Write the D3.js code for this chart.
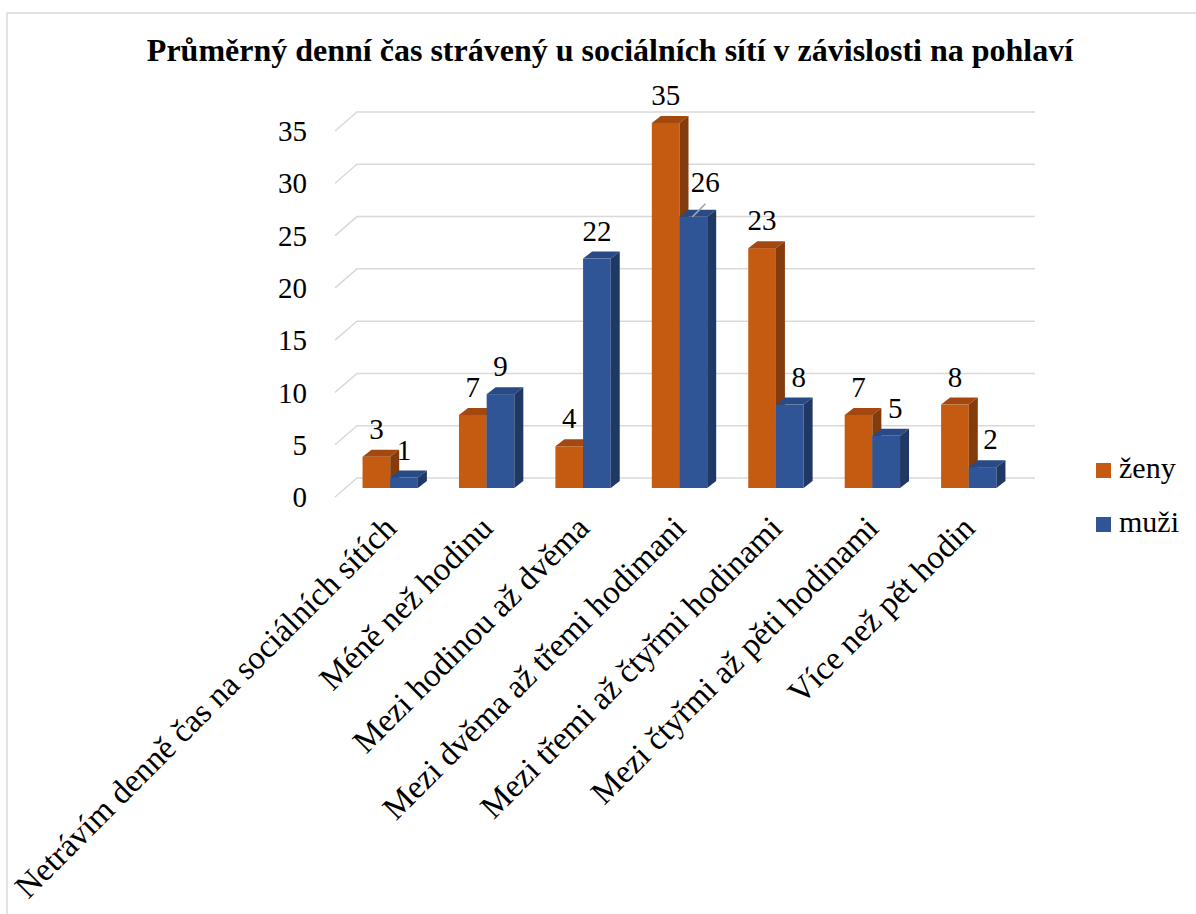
<!DOCTYPE html>
<html>
<head>
<meta charset="utf-8">
<script src="https://cdn.jsdelivr.net/npm/d3@7"></script>
<style>
	html, body { margin: 0; padding: 0; background: #fff; }
</style>
</head>
<body>
<div id="chart"></div>
<script>
const title = 'Průměrný denní čas strávený u sociálních sítí v závislosti na pohlaví';
const categories = [
	'Netrávím denně čas na sociálních sítích',
	'Méně než hodinu',
	'Mezi hodinou až dvěma',
	'Mezi dvěma až třemi hodimani',
	'Mezi třemi až čtyřmi hodinami',
	'Mezi čtyřmi až pěti hodinami',
	'Více než pět hodin'
];
const seriesNames = ['ženy', 'muži'];
const zeny = [3, 7, 4, 35, 23, 7, 8];
const muzi = [1, 9, 22, 26, 8, 5, 2];
const yTicks = [0, 5, 10, 15, 20, 25, 30, 35];

const W = 1196, H = 914;
const FONT = 'Liberation Serif';
const depth = { dx: 9, dy: -7 };      // bar depth (pseudo 3D)
const wall = { dx: 22, dy: -19 };     // side wall: front edge -> back wall
const colors = [
	{ front: '#c55a11', top: '#a4480f', side: '#843c0c' },
	{ front: '#2f5597', top: '#284a85', side: '#203864' }
];
// manual data label moves (series, category)
const labelMoves = [
	{ s: 1, c: 3, dx: 12, dy: -7, leader: true },
	{ s: 1, c: 4, dx: 9, dy: 0 },
	{ s: 1, c: 5, dx: 9, dy: 0 },
	{ s: 1, c: 6, dx: 8, dy: 0 }
];

const svg = d3.select('#chart')
	.append('svg')
	.attr('width', W)
	.attr('height', H)
	.attr('viewBox', `0 0 ${W} ${H}`);

// small text is drawn at 2x and scaled down, the small sizes of the serif face come out sans-like
const smallText = (sel, size) => sel
	.attr('font-family', FONT)
	.attr('font-size', size * 2);

// chart area border
svg.append('rect')
	.attr('x', 7).attr('y', 13)
	.attr('width', W).attr('height', H)
	.attr('fill', 'none')
	.attr('stroke', '#d9d9d9')
	.attr('stroke-width', 1.5);

svg.append('text')
	.attr('x', 610).attr('y', 61)
	.attr('text-anchor', 'middle')
	.attr('font-family', FONT)
	.attr('font-size', 32)
	.attr('font-weight', 'bold')
	.text(title);

const x = d3.scaleBand()
	.domain(categories)
	.range([342, 1017])
	.paddingInner(0.426)
	.paddingOuter(0.213);
const xs = d3.scaleBand()
	.domain(d3.range(seriesNames.length))
	.range([0, x.bandwidth()]);
const y = d3.scaleLinear().domain([0, 35]).range([488, 123]);       // bars
const yWall = d3.scaleLinear().domain([0, 35]).range([478, 112]);   // back wall

const wallLeft = 357, wallRight = 1035;

// gridlines: side wall diagonal + back wall
svg.append('g').classed('grid', true)
	.selectAll('path')
	.data(yTicks)
	.enter()
	.append('path')
	.attr('d', d => `M${wallLeft - wall.dx},${yWall(d) - wall.dy}L${wallLeft},${yWall(d)}L${wallRight},${yWall(d)}`)
	.attr('fill', 'none')
	.attr('stroke', '#d9d9d9')
	.attr('stroke-width', 1.5);

svg.append('g').classed('y-axis', true)
	.selectAll('text')
	.data(yTicks)
	.enter()
	.append('text')
	.attr('transform', d => `translate(307,${yWall(d) - wall.dy}) scale(0.5)`)
	.attr('dy', '0.35em')
	.attr('text-anchor', 'end')
	.call(smallText, 29)
	.text(d => d);

// bars
const rows = [];
categories.forEach((c, i) => {
	[zeny, muzi].forEach((vals, s) => {
		rows.push({ c, i, s, value: vals[i] });
	});
});

const bars = svg.append('g').classed('bars', true)
	.selectAll('g')
	.data(rows)
	.enter()
	.append('g');

const geo = d => {
	const x0 = x(d.c) + xs(d.s), w = xs.bandwidth(), y0 = y(d.value), b = y(0);
	return { x0, w, y0, b };
};

bars.append('rect')
	.attr('x', d => geo(d).x0)
	.attr('y', d => geo(d).y0)
	.attr('width', d => geo(d).w)
	.attr('height', d => geo(d).b - geo(d).y0)
	.attr('fill', d => colors[d.s].front);

bars.append('path')
	.attr('d', d => {
		const g = geo(d);
		return `M${g.x0},${g.y0}L${g.x0 + depth.dx},${g.y0 + depth.dy}L${g.x0 + g.w + depth.dx},${g.y0 + depth.dy}L${g.x0 + g.w},${g.y0}Z`;
	})
	.attr('fill', d => colors[d.s].top);

bars.append('path')
	.attr('d', d => {
		const g = geo(d), xr = g.x0 + g.w;
		return `M${xr},${g.y0}L${xr + depth.dx},${g.y0 + depth.dy}L${xr + depth.dx},${g.b + depth.dy}L${xr},${g.b}Z`;
	})
	.attr('fill', d => colors[d.s].side);

// data labels
const labels = svg.append('g').classed('labels', true);
rows.forEach(d => {
	const g = geo(d);
	const mv = labelMoves.find(m => m.s === d.s && m.c === d.i) || { dx: 0, dy: 0 };
	const cx = g.x0 + g.w / 2;
	if (mv.leader) {
		labels.append('line')
			.attr('x1', cx - 1).attr('y1', g.y0)
			.attr('x2', cx + mv.dx).attr('y2', g.y0 - 13)
			.attr('stroke', '#a6a6a6')
			.attr('stroke-width', 1.5);
	}
	labels.append('text')
		.attr('transform', `translate(${cx + mv.dx},${g.y0 - 18 + mv.dy}) scale(0.5)`)
		.attr('text-anchor', 'middle')
		.call(smallText, 29)
		.text(d.value);
});

// category labels
svg.append('g').classed('x-axis', true)
	.selectAll('text')
	.data(categories)
	.enter()
	.append('text')
	.attr('transform', d => `translate(${x(d) + x.bandwidth() / 2 + 8},530) rotate(-45)`)
	.attr('text-anchor', 'end')
	.attr('font-family', FONT)
	.attr('font-size', 33)
	.text(d => d);

// legend
const legend = svg.append('g').classed('legend', true)
	.selectAll('g')
	.data(seriesNames)
	.enter()
	.append('g')
	.attr('transform', (d, i) => `translate(1096,${463 + i * 54})`);

legend.append('rect')
	.attr('width', 15).attr('height', 15)
	.attr('fill', (d, i) => colors[i].front);

legend.append('text')
	.attr('transform', 'translate(23,14.5) scale(0.5)')
	.call(smallText, 30)
	.text(d => d);
</script>
</body>
</html>
